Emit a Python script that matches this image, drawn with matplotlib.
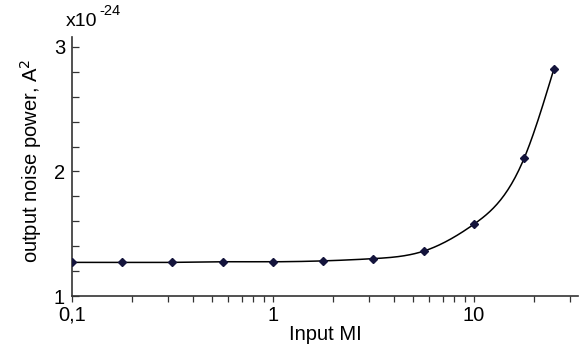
import numpy as np
import matplotlib
matplotlib.use("Agg")
import matplotlib.pyplot as plt
from matplotlib.ticker import FixedLocator, NullFormatter, LogLocator

plt.rcParams['font.family'] = ['Liberation Sans', 'DejaVu Sans']

input_mi = [0.1, 0.178, 0.316, 0.562, 1.0, 1.78, 3.16, 5.62, 10.0, 17.8, 25.0]
noise_power = [1.27, 1.27, 1.27, 1.275, 1.275, 1.282, 1.30, 1.36, 1.576, 2.106, 2.82]
x_ticks = [0.1, 1, 10]
x_tick_labels = ["0,1", "1", "10"]
y_ticks = [1, 2, 3]
y_tick_labels = ["1", "2", "3"]


def natural_spline(xs, ys, n=400):
    xs = np.asarray(xs, float); ys = np.asarray(ys, float)
    k = len(xs); h = np.diff(xs)
    A = np.zeros((k, k)); b = np.zeros(k)
    A[0, 0] = A[-1, -1] = 1
    for i in range(1, k - 1):
        A[i, i - 1] = h[i - 1]; A[i, i] = 2 * (h[i - 1] + h[i]); A[i, i + 1] = h[i]
        b[i] = 6 * ((ys[i + 1] - ys[i]) / h[i] - (ys[i] - ys[i - 1]) / h[i - 1])
    M = np.linalg.solve(A, b)
    xx = np.linspace(xs[0], xs[-1], n)
    idx = np.clip(np.searchsorted(xs, xx) - 1, 0, k - 2)
    x0 = xs[idx]; x1 = xs[idx + 1]; hh = x1 - x0
    t0 = x1 - xx; t1 = xx - x0
    yy = (M[idx] * t0**3 + M[idx + 1] * t1**3) / (6 * hh) \
        + (ys[idx] / hh - M[idx] * hh / 6) * t0 + (ys[idx + 1] / hh - M[idx + 1] * hh / 6) * t1
    return xx, yy


W, H = 580, 351
fig = plt.figure(figsize=(5.8, 3.51), dpi=100)
ax = fig.add_axes([72 / W, 1 - 296 / H, 506 / W, 259 / H])

lx, ly = natural_spline(np.log10(input_mi), noise_power)
ax.plot(10**lx, ly, color='black', lw=1.1, zorder=2)
ax.plot(input_mi, noise_power, linestyle='none', marker='D', markersize=4,
        color='#14143c', zorder=3)

ax.set_xscale('log')
ax.set_xlim(0.1, 33)
ax.set_ylim(1, 3.08)

ax.xaxis.set_major_locator(FixedLocator(x_ticks))
ax.set_xticklabels(x_tick_labels)
ax.xaxis.set_minor_locator(LogLocator(base=10, subs=np.arange(2, 10)))
ax.xaxis.set_minor_formatter(NullFormatter())
ax.yaxis.set_major_locator(FixedLocator(y_ticks))
ax.set_yticklabels(y_tick_labels)
ax.yaxis.set_minor_locator(FixedLocator(np.arange(1, 3.01, 0.2)))

ax.tick_params(axis='x', which='both', direction='out', length=4, width=0.9,
               labelsize=14.5, colors='#333333', labelcolor='black', pad=3)
ax.tick_params(axis='y', which='both', direction='in', length=5, width=0.9,
               labelsize=14.5, colors='#333333', labelcolor='black', pad=5)

for s in ['top', 'right']:
    ax.spines[s].set_visible(False)
for s in ['left', 'bottom']:
    ax.spines[s].set_color('#333333')
    ax.spines[s].set_linewidth(1.2)

ax.set_xlabel('Input MI', fontsize=14.5)
ax.xaxis.set_label_coords(0.5, (296 - 325) / 259)
ax.set_ylabel('output noise power, A$^2$', fontsize=14.5)
ax.yaxis.set_label_coords((44 - 72) / 506, (296 - 161) / 259)

fig.text(66 / W, 1 - 26 / H, 'x10', fontsize=14, ha='left', va='baseline')
fig.text(99 / W, 1 - 15 / H, '-24', fontsize=10.5, ha='left', va='baseline')

fig.savefig('out.png', dpi=100)
